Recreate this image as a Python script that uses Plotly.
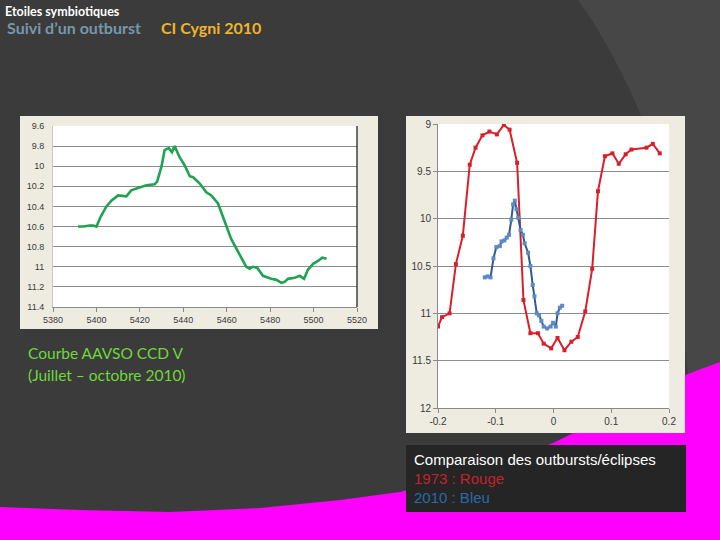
import plotly.graph_objects as go

W, H = 720, 540

# ---------------- Data ----------------
aavso_jd = [5391.5, 5394, 5396.9, 5398.5, 5400, 5402, 5404.6, 5407, 5410, 5413.8, 5416,
            5420.7, 5423, 5426.8, 5428, 5430, 5431.4, 5433.3, 5434.8, 5436, 5438.3,
            5440.6, 5443, 5444.5, 5447.5, 5450.6, 5452.9, 5456, 5459, 5462, 5465.2,
            5469, 5470.6, 5472, 5474, 5476.7, 5480.5, 5482.9, 5485.2, 5486.7, 5488.2,
            5491.3, 5493.6, 5495.6, 5497.4, 5499.8, 5502.2, 5504, 5506]
aavso_mag = [10.60, 10.60, 10.59, 10.59, 10.60, 10.50, 10.40, 10.34, 10.29, 10.30, 10.24,
             10.21, 10.19, 10.18, 10.15, 10.00, 9.84, 9.82, 9.86, 9.80, 9.91,
             9.99, 10.10, 10.11, 10.17, 10.26, 10.29, 10.37, 10.55, 10.72, 10.85,
             11.00, 11.02, 11.00, 11.01, 11.09, 11.12, 11.13, 11.16, 11.15, 11.12,
             11.11, 11.09, 11.12, 11.03, 10.97, 10.94, 10.91, 10.92]

phase_1973 = [-0.200, -0.193, -0.180, -0.169, -0.157, -0.145, -0.135, -0.123, -0.111,
              -0.098, -0.086, -0.076, -0.063, -0.052, -0.040, -0.027, -0.017, -0.004,
              0.007, 0.019, 0.031, 0.042, 0.055, 0.067, 0.077, 0.089, 0.102, 0.113,
              0.125, 0.135, 0.161, 0.172, 0.184]
mag_1973 = [11.14, 11.04, 11.00, 10.48, 10.18, 9.43, 9.25, 9.12, 9.08,
            9.11, 9.01, 9.06, 9.41, 10.86, 11.21, 11.21, 11.32, 11.37,
            11.26, 11.39, 11.30, 11.25, 10.98, 10.53, 9.71, 9.34, 9.31, 9.42,
            9.32, 9.27, 9.25, 9.21, 9.31]

phase_2010 = [-0.119, -0.114, -0.109, -0.104, -0.099, -0.093, -0.090, -0.085, -0.081,
              -0.077, -0.073, -0.070, -0.067, -0.064, -0.061, -0.057, -0.053, -0.050,
              -0.044, -0.040, -0.036, -0.033, -0.029, -0.025, -0.021, -0.017, -0.011,
              -0.005, -0.001, 0.004, 0.007, 0.011, 0.015]
mag_2010 = [10.62, 10.61, 10.62, 10.42, 10.30, 10.29, 10.24, 10.23, 10.20,
            10.17, 10.01, 9.85, 9.81, 9.90, 9.99, 10.12, 10.17, 10.26,
            10.36, 10.50, 10.70, 10.82, 11.00, 11.02, 11.08, 11.14, 11.16,
            11.14, 11.10, 11.14, 11.00, 10.94, 10.92]

left_yticks = [9.6, 9.8, 10, 10.2, 10.4, 10.6, 10.8, 11, 11.2, 11.4]
left_xticks = [5380, 5400, 5420, 5440, 5460, 5480, 5500, 5520]
right_yticks = [9, 9.5, 10, 10.5, 11, 11.5, 12]
right_xticks = [-0.2, -0.1, 0, 0.1, 0.2]


def fx(px):
    return px / W


def fy(py):
    return 1 - py / H


def path(pts, close=True):
    s = "M" + "L".join(f"{fx(x):.5f},{fy(y):.5f}" for x, y in pts)
    return s + ("Z" if close else "")


fig = go.Figure()

fig.add_trace(go.Scatter(x=aavso_jd, y=aavso_mag, mode="lines",
                         line=dict(color="#1fa352", width=2.6),
                         xaxis="x", yaxis="y", showlegend=False))
fig.add_trace(go.Scatter(x=phase_1973, y=mag_1973, mode="lines+markers",
                         line=dict(color="#d9202a", width=2),
                         marker=dict(symbol="square", size=4, color="#d9202a"),
                         xaxis="x2", yaxis="y2", showlegend=False))
fig.add_trace(go.Scatter(x=phase_2010, y=mag_2010, mode="lines+markers",
                         line=dict(color="#2f5b8a", width=2),
                         marker=dict(symbol="square", size=4, color="#5b8ac4"),
                         xaxis="x2", yaxis="y2", showlegend=False))

L = dict(x0=53, x1=357, y0=126, y1=307)
R = dict(x0=438, x1=669, y0=124, y1=408)

band_edge = [(720, 362), (685, 375), (620, 410), (553, 443), (480, 470), (400, 492),
             (340, 500), (260, 508), (170, 512), (80, 510), (0, 507)]

shapes = []
shapes.append(dict(type="path", xref="paper", yref="paper", layer="below",
                   path=path([(578, 0), (592, 20), (605, 42), (618, 66), (630, 90), (642, 118),
                              (660, 200), (680, 300), (688, 377), (720, 362), (720, 0)]),
                   fillcolor="#474747", line=dict(width=0)))
shapes.append(dict(type="path", xref="paper", yref="paper", layer="below",
                   path=path(band_edge + [(0, 540), (720, 540)]),
                   fillcolor="#ff00ff", line=dict(width=0)))
shapes.append(dict(type="rect", xref="paper", yref="paper", layer="below",
                   x0=fx(20), x1=fx(378), y0=fy(329), y1=fy(116),
                   fillcolor="#eeece1", line=dict(width=0)))
shapes.append(dict(type="rect", xref="paper", yref="paper", layer="below",
                   x0=fx(406), x1=fx(685), y0=fy(433), y1=fy(116),
                   fillcolor="#eeece1", line=dict(width=0)))
for P in (L, R):
    shapes.append(dict(type="rect", xref="paper", yref="paper", layer="below",
                       x0=fx(P["x0"]), x1=fx(P["x1"]), y0=fy(P["y1"]), y1=fy(P["y0"]),
                       fillcolor="white", line=dict(width=0)))
shapes.append(dict(type="line", xref="x domain", yref="y domain", layer="above",
                   x0=1, x1=1, y0=0, y1=1, line=dict(color="#111111", width=1.2)))
shapes.append(dict(type="rect", xref="paper", yref="paper", layer="below",
                   x0=fx(406), x1=fx(686), y0=fy(512), y1=fy(445),
                   fillcolor="#252525", line=dict(width=0)))

tick_font_l = dict(family="Liberation Sans, Arial", size=9, color="#3a3a3a")
tick_font_r = dict(family="Liberation Sans, Arial", size=10, color="#3a3a3a")

layout = dict(
    width=W, height=H, margin=dict(l=0, r=0, t=0, b=0, pad=0, autoexpand=False),
    paper_bgcolor="#3b3b3b", plot_bgcolor="rgba(0,0,0,0)",
    shapes=shapes,
    xaxis=dict(domain=[fx(L["x0"]), fx(L["x1"])], range=[5380, 5520],
               tickvals=left_xticks, ticktext=[str(v) for v in left_xticks],
               showgrid=False, zeroline=False, showline=True, linecolor="#8a8a8a",
               ticks="outside", ticklen=4, tickcolor="#8a8a8a", tickfont=tick_font_l,
               anchor="y", automargin=False),
    yaxis=dict(domain=[fy(L["y1"]), fy(L["y0"])], range=[11.4, 9.6],
               tickvals=left_yticks, ticktext=[f"{v:g}" for v in left_yticks],
               showgrid=True, gridcolor="#8c8c8c", gridwidth=1, zeroline=False,
               showline=True, linecolor="#c8c8c8", ticks="", tickfont=tick_font_l,
               ticklabelstandoff=6, anchor="x", automargin=False),
    xaxis2=dict(domain=[fx(R["x0"]), fx(R["x1"])], range=[-0.2, 0.2],
                tickvals=right_xticks, ticktext=[f"{v:g}" for v in right_xticks],
                showgrid=False, zeroline=False, showline=True, linecolor="#8a8a8a",
                ticks="outside", ticklen=4, tickcolor="#8a8a8a", tickfont=tick_font_r,
                anchor="y2", automargin=False),
    yaxis2=dict(domain=[fy(R["y1"]), fy(R["y0"])], range=[12, 9],
                tickvals=right_yticks, ticktext=[f"{v:g}" for v in right_yticks],
                showgrid=True, gridcolor="#8c8c8c", gridwidth=1, zeroline=False,
                showline=True, linecolor="#8a8a8a", ticks="outside", ticklen=4,
                tickcolor="#8a8a8a", tickfont=tick_font_r, anchor="x2", automargin=False),
)
fig.update_layout(**layout)

ann = []


def text(px, py, s, size, color, family="Lato", bold=False):
    ann.append(dict(xref="paper", yref="paper", x=fx(px), y=fy(py),
                    xanchor="left", yanchor="middle", showarrow=False,
                    text=(f"<b>{s}</b>" if bold else s),
                    font=dict(family=family, size=size, color=color)))


text(3, 11, "Etoiles symbiotiques", 12.5, "#ffffff", bold=True)
text(5, 28, "Suivi d\u2019un outburst", 16, "#7598aa", bold=True)
text(159, 28, "CI Cygni 2010", 16, "#f0b429", bold=True)
text(26, 353, "Courbe AAVSO CCD V", 15.5, "#6fd83a")
text(26, 375, "(Juillet \u2013 octobre 2010)", 15.5, "#6fd83a")
text(412, 459, "Comparaison des outbursts/\u00e9clipses", 15, "#ffffff", family="Liberation Sans, Arial")
text(412, 478, "1973 : Rouge", 15, "#c4232b", family="Liberation Sans, Arial")
text(412, 497, "2010 : Bleu", 15, "#2a6aa6", family="Liberation Sans, Arial")

fig.update_layout(annotations=ann)

fig.write_html("out.html")
